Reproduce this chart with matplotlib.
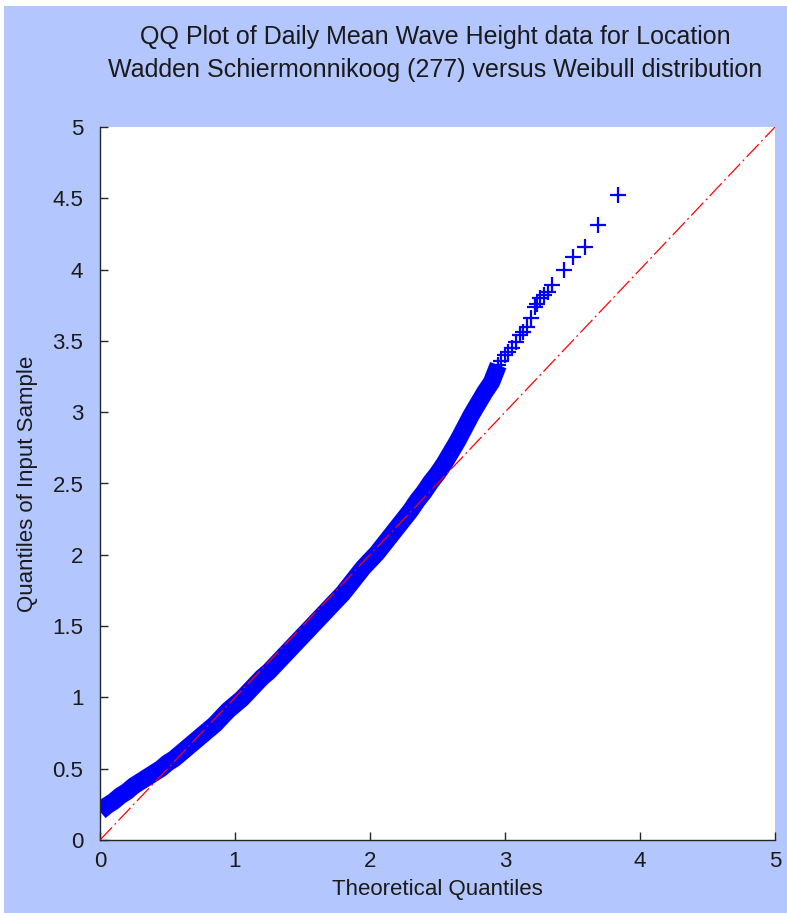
import matplotlib
matplotlib.use("Agg")
import matplotlib.pyplot as plt
from matplotlib.patches import Rectangle

plt.rcParams['font.family'] = ['Liberation Sans', 'DejaVu Sans']

# Theoretical (Weibull) quantiles and sample quantiles
theoretical = [0.00, 0.05, 0.10, 0.15, 0.20, 0.25, 0.30, 0.35, 0.40, 0.45,
               0.50, 0.55, 0.60, 0.65, 0.70, 0.75, 0.80, 0.85, 0.90, 0.95,
               1.00, 1.05, 1.10, 1.15, 1.20, 1.25, 1.30, 1.35, 1.40, 1.45,
               1.50, 1.55, 1.60, 1.65, 1.70, 1.75, 1.80, 1.85, 1.90, 1.95,
               2.00, 2.05, 2.10, 2.15, 2.20, 2.25, 2.30, 2.35, 2.40, 2.45,
               2.50, 2.55, 2.60, 2.65, 2.70, 2.75, 2.80, 2.85, 2.90,
               2.95, 2.97, 3.00, 3.02, 3.05, 3.08, 3.11, 3.13, 3.16, 3.19,
               3.22, 3.24, 3.26, 3.29, 3.32, 3.35, 3.44, 3.50, 3.59, 3.69, 3.84]
sample = [0.20, 0.24, 0.27, 0.31, 0.34, 0.38, 0.41, 0.44, 0.47, 0.50,
          0.54, 0.57, 0.61, 0.65, 0.69, 0.73, 0.77, 0.81, 0.86, 0.91,
          0.95, 0.99, 1.04, 1.09, 1.14, 1.18, 1.23, 1.28, 1.33, 1.38,
          1.43, 1.48, 1.53, 1.58, 1.63, 1.68, 1.73, 1.79, 1.85, 1.91,
          1.96, 2.01, 2.07, 2.13, 2.19, 2.25, 2.31, 2.38, 2.44, 2.51,
          2.57, 2.64, 2.72, 2.80, 2.89, 2.98, 3.06, 3.14, 3.21,
          3.33, 3.36, 3.40, 3.42, 3.45, 3.49, 3.54, 3.56, 3.60, 3.66,
          3.74, 3.76, 3.80, 3.82, 3.84, 3.89, 4.00, 4.09, 4.16, 4.31, 4.52]
# number of leading points that form the dense, overlapping band
n_dense = 60

ref_x = [0, 5]
ref_y = [0, 5]

xticks = [0, 1, 2, 3, 4, 5]
yticks = [0, 0.5, 1, 1.5, 2, 2.5, 3, 3.5, 4, 4.5, 5]
ytick_labels = ['0', '0.5', '1', '1.5', '2', '2.5', '3', '3.5', '4', '4.5', '5']

title = ("QQ Plot of Daily Mean Wave Height data for Location\n"
         "Wadden Schiermonnikoog (277) versus Weibull distribution")

bg = '#B3C6FD'
blue = '#0000FF'
fig = plt.figure(figsize=(7.87, 9.13), dpi=100, facecolor='white')
fig.patches.append(Rectangle((4 / 787, 0), 1, (913 - 6) / 913,
                             transform=fig.transFigure, facecolor=bg,
                             edgecolor='none', zorder=-10))

ax = fig.add_axes([100 / 787, (913 - 840) / 913, 675 / 787, 713 / 913])
ax.set_facecolor('white')

# dense band: overlapping '+' markers merge into a solid stroke
ax.plot(theoretical[:n_dense], sample[:n_dense], color=blue, linewidth=12.5,
        solid_capstyle='butt', solid_joinstyle='round', zorder=2)
ax.plot(theoretical, sample, linestyle='none', marker='+', color=blue,
        markersize=12, markeredgewidth=1.6, zorder=2)
ax.plot(ref_x, ref_y, color='#FF0000', linewidth=0.9,
        linestyle=(0, (14, 3, 1.5, 3)), zorder=3)

ax.set_xlim(0, 5)
ax.set_ylim(0, 5)
ax.set_xticks(xticks)
ax.set_yticks(yticks)
ax.set_yticklabels(ytick_labels)
ax.spines['top'].set_visible(False)
ax.spines['right'].set_visible(False)
for s in ('left', 'bottom'):
    ax.spines[s].set_color('#262626')
    ax.spines[s].set_linewidth(1.0)
ax.tick_params(direction='in', length=6, width=1, colors='#262626',
               labelsize=16, labelcolor='#1a1a1a')
ax.tick_params(axis='y', pad=12)
ax.tick_params(axis='x', pad=8)

ax.set_xlabel('Theoretical Quantiles', fontsize=16, color='#1a1a1a', labelpad=5)
ax.set_ylabel('Quantiles of Input Sample', fontsize=16, color='#1a1a1a', labelpad=10)
fig.text(0.553, 0.973, title, ha='center', va='top', fontsize=18,
         color='#1a1a1a', linespacing=1.5)

fig.savefig('out.png', dpi=100, facecolor=fig.get_facecolor())
